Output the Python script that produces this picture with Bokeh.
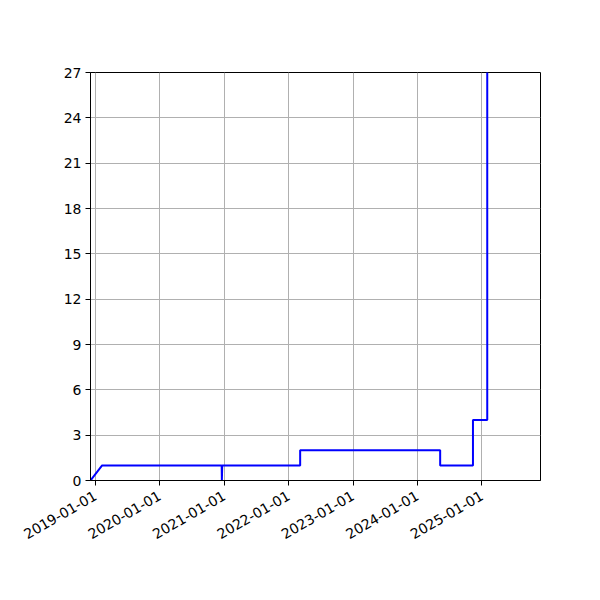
import pandas as pd
from math import pi
from bokeh.plotting import figure
from bokeh.models import FixedTicker, DatetimeTickFormatter, Range1d
from bokeh.embed import file_html
from bokeh.resources import INLINE

# data
dates = ["2018-12-04", "2019-02-08", "2020-12-17", "2020-12-18", "2020-12-20",
         "2022-03-07", "2022-03-07", "2024-05-09", "2024-05-09", "2024-11-11",
         "2024-11-11", "2025-01-31", "2025-01-31"]
values = [0, 1, 1, 0, 1, 1, 2, 2, 1, 1, 4, 4, 40]

tick_years = ["2019-01-01", "2020-01-01", "2021-01-01", "2022-01-01",
              "2023-01-01", "2024-01-01", "2025-01-01"]
y_ticks = [0, 3, 6, 9, 12, 15, 18, 21, 24, 27]
x_start, x_end = "2018-12-04", "2025-11-29"

xs = pd.to_datetime(dates)
tick_ms = [pd.Timestamp(t).value / 1e6 for t in tick_years]

p = figure(x_axis_type="datetime", output_backend="svg", toolbar_location=None,
           frame_width=450, frame_height=408,
           min_border_left=90, min_border_right=52,
           min_border_top=72, min_border_bottom=70,
           x_range=Range1d(pd.Timestamp(x_start), pd.Timestamp(x_end)),
           y_range=Range1d(0, 27))

p.line(xs, values, line_color="#0000ff", line_width=2)

p.xaxis.ticker = FixedTicker(ticks=tick_ms)
p.xaxis.formatter = DatetimeTickFormatter(days="%Y-%m-%d", months="%Y-%m-%d",
                                          years="%Y-%m-%d")
p.xaxis.major_label_orientation = pi / 6
p.yaxis.ticker = FixedTicker(ticks=y_ticks)

for ax in (p.xaxis, p.yaxis):
    ax.major_label_text_font = "DejaVu Sans"
    ax.major_label_text_font_size = "14px"
    ax.major_label_text_color = "black"
    ax.axis_line_color = "black"
    ax.axis_line_width = 1
    ax.major_tick_line_color = "black"
    ax.major_tick_out = 5
    ax.major_tick_in = 0
    ax.minor_tick_line_color = None
    ax.major_label_standoff = 4
p.xaxis.major_label_standoff = 9

p.grid.grid_line_color = "#b0b0b0"
p.grid.grid_line_width = 1
p.outline_line_color = "black"
p.outline_line_alpha = 1
p.outline_line_width = 1
p.background_fill_color = "white"
p.border_fill_color = "white"

open("out.html", "w").write(file_html(p, INLINE))
